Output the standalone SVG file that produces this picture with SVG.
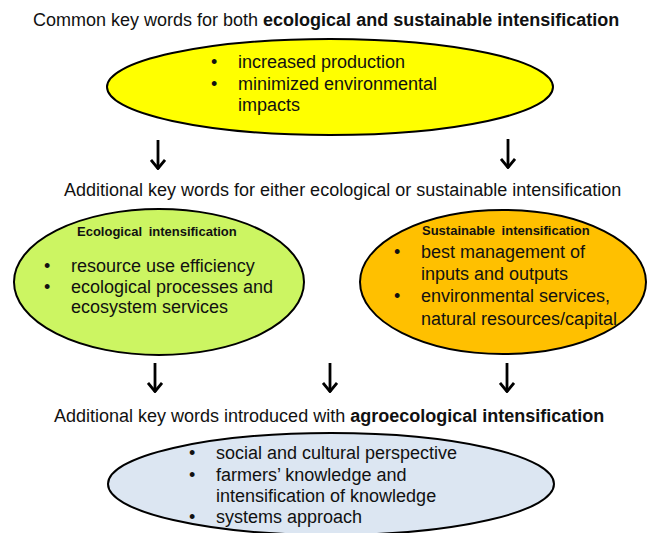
<svg xmlns="http://www.w3.org/2000/svg" width="648" height="533" viewBox="0 0 648 533">
<style>
text{font-family:"Liberation Sans",Arial,sans-serif;fill:#111}
.t{font-size:18px}
.b{font-weight:bold}
.body{font-size:18px}
.h{font-size:13px;font-weight:bold;word-spacing:3px}
.ell{stroke:#000;stroke-width:2}
.arr{stroke:#000;stroke-width:2.8;fill:none;marker-end:url(#ah)}
</style>
<defs>
<marker id="ah" viewBox="0 0 11 16" refX="10" refY="8" markerWidth="11" markerHeight="16" markerUnits="userSpaceOnUse" orient="auto">
<path d="M1,1 L9.5,8 L1,15" fill="none" stroke="#000" stroke-width="2.8"/>
</marker>
</defs>
<rect width="648" height="533" fill="#fff"/>
<g id="title1"><text class="t" x="33" y="26">Common key words for both <tspan class="b">ecological and sustainable intensification</tspan></text></g>
<g id="common">
<ellipse class="ell" cx="330" cy="87" rx="223" ry="48" fill="#FFFF00"/>
<text class="body" x="211" y="68">•</text><text class="body" x="238" y="68">increased production</text>
<text class="body" x="211" y="90">•</text><text class="body" x="238" y="90">minimized environmental</text>
<text class="body" x="238" y="111">impacts</text>
</g>
<g id="title2"><text class="t" x="64" y="196">Additional key words for either ecological or sustainable intensification</text></g>
<g id="ecological">
<ellipse class="ell" cx="159" cy="282" rx="145" ry="73" fill="#CCF562"/>
<text class="h" x="77" y="236">Ecological intensification</text>
<text class="body" x="44" y="272">•</text><text class="body" x="71" y="272">resource use efficiency</text>
<text class="body" x="44" y="293">•</text><text class="body" x="71" y="293">ecological processes and</text>
<text class="body" x="71" y="313">ecosystem services</text>
</g>
<g id="sustainable">
<ellipse class="ell" cx="503" cy="282" rx="143" ry="72" fill="#FFC000"/>
<text class="h" x="422" y="235">Sustainable intensification</text>
<text class="body" x="394" y="258">•</text><text class="body" x="421" y="258">best management of</text>
<text class="body" x="421" y="280">inputs and outputs</text>
<text class="body" x="394" y="302">•</text><text class="body" x="421" y="302">environmental services,</text>
<text class="body" x="421" y="325">natural resources/capital</text>
</g>
<g id="title3"><text class="t" x="54" y="422">Additional key words introduced with <tspan class="b">agroecological intensification</tspan></text></g>
<g id="agroecological">
<ellipse class="ell" cx="331" cy="484" rx="223" ry="51" fill="#DCE6F2"/>
<text class="body" x="189" y="459">•</text><text class="body" x="216" y="459">social and cultural perspective</text>
<text class="body" x="189" y="481">•</text><text class="body" x="216" y="481">farmers’ knowledge and</text>
<text class="body" x="216" y="502">intensification of knowledge</text>
<text class="body" x="189" y="523">•</text><text class="body" x="216" y="523">systems approach</text>
</g>
<g id="connectors">
<path class="arr" d="M158,140 V169"/>
<path class="arr" d="M508,139 V168"/>
<path class="arr" d="M155,363 V392"/>
<path class="arr" d="M330,363 V392"/>
<path class="arr" d="M507,363 V392"/>
</g>
</svg>
